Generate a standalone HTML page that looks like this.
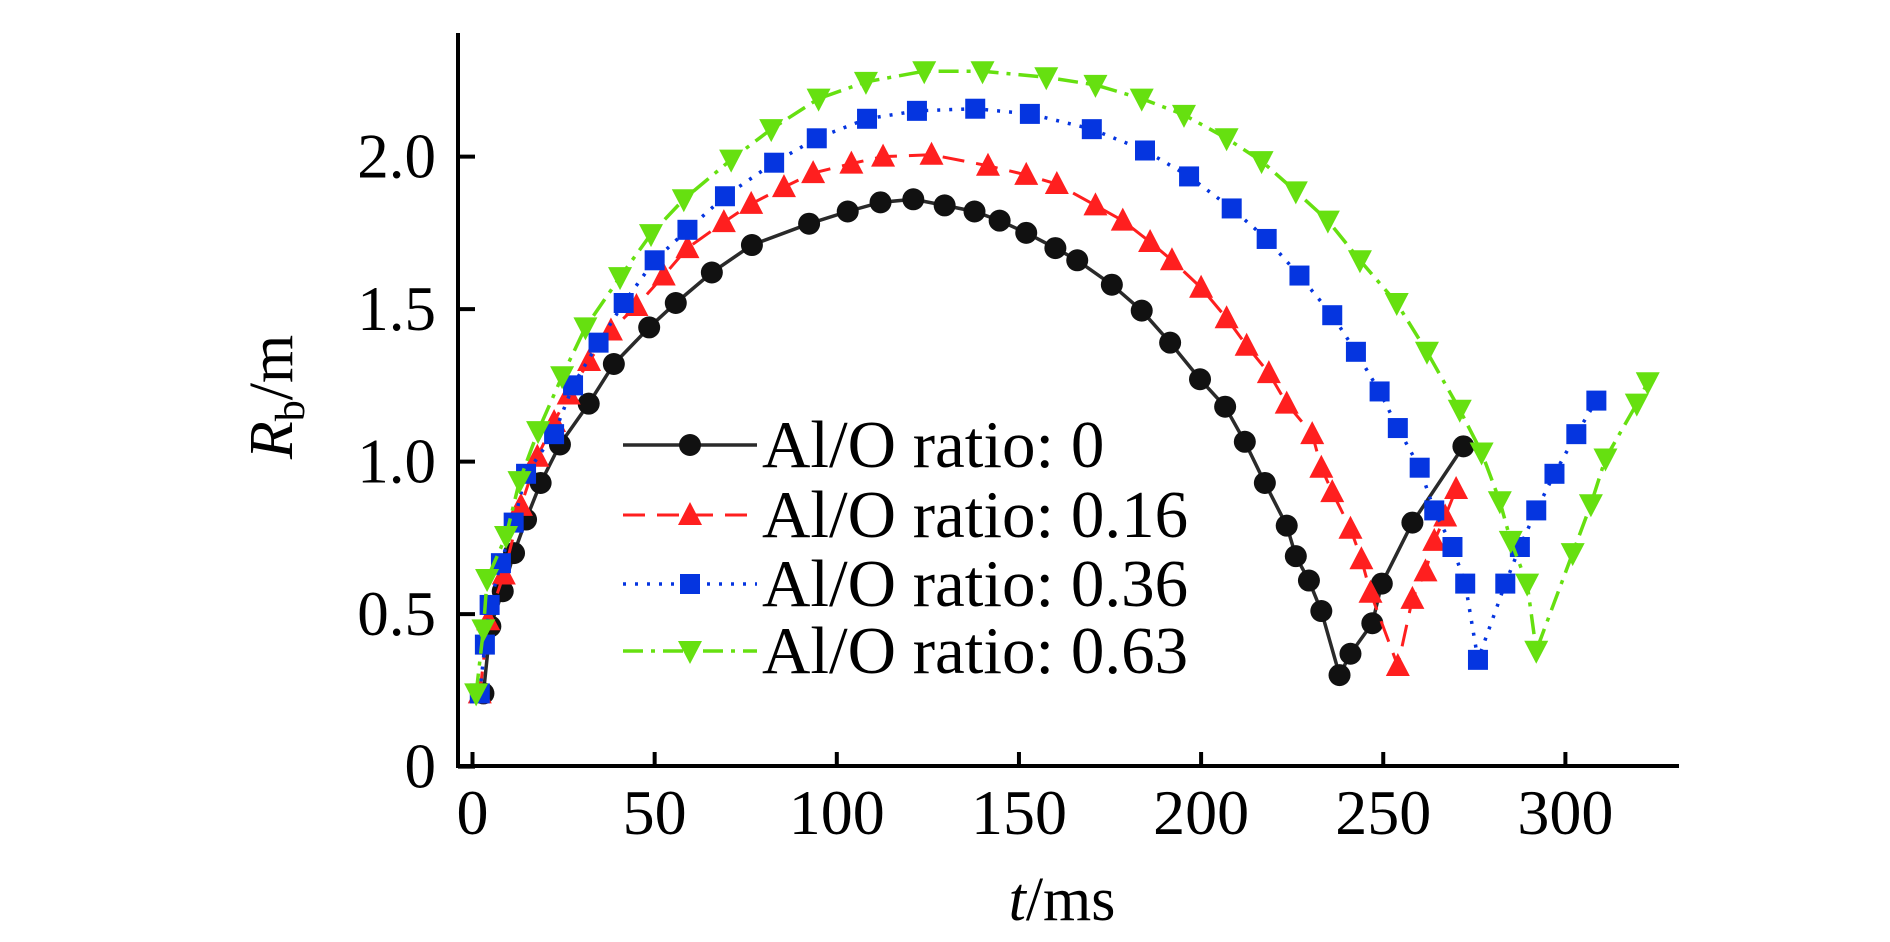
<!DOCTYPE html>
<html><head><meta charset="utf-8"><style>
html,body{margin:0;padding:0;background:#fff;}
svg{display:block;font-family:"Liberation Serif",serif;}
</style></head><body>
<svg id="chart" width="1890" height="942" viewBox="0 0 1890 942" xmlns="http://www.w3.org/2000/svg">
<g id="axes"></g>
<g id="series"></g>
<g id="legend"></g>
</svg>
<script>
const xTicks = [0, 50, 100, 150, 200, 250, 300];
const yTicks = [0, 0.5, 1.0, 1.5, 2.0];
const yTickLabels = ["0", "0.5", "1.0", "1.5", "2.0"];
const seriesNames = ["Al/O ratio: 0", "Al/O ratio: 0.16", "Al/O ratio: 0.36", "Al/O ratio: 0.63"];

const t0 = [3,4.9,8.3,11.4,14.7,18.7,24,31.9,38.8,48.5,55.8,65.7,76.7,92.4,103,112,121,129.6,137.8,144.7,152,160,166,175.5,183.7,191.5,199.7,206.6,212,217.5,223.5,226,229.6,233,238,241,247,249.6,258,272];
const r0 = [0.24,0.46,0.575,0.70,0.81,0.93,1.056,1.19,1.32,1.44,1.52,1.62,1.71,1.78,1.82,1.85,1.86,1.84,1.82,1.79,1.75,1.70,1.66,1.58,1.495,1.39,1.27,1.18,1.065,0.93,0.79,0.69,0.61,0.51,0.30,0.37,0.47,0.60,0.80,1.05];

const t1 = [2,4.3,8.6,13.3,17.8,22.4,26.4,32,38,45,52.5,59,69,76.5,85.5,93.5,104,112.7,126,141.5,152,160.4,171,178.5,186,192,200,207,212.5,218.6,223.5,230.5,233,236,241,244,246.5,254,258,261.6,264,267,270];
const r1 = [0.24,0.48,0.63,0.855,1.016,1.13,1.22,1.33,1.43,1.51,1.61,1.70,1.785,1.845,1.90,1.946,1.977,2.0,2.006,1.97,1.94,1.91,1.84,1.79,1.72,1.66,1.57,1.47,1.38,1.29,1.19,1.09,0.98,0.90,0.78,0.68,0.57,0.33,0.55,0.64,0.74,0.82,0.91];

const t2 = [2,3.4,4.7,7.8,11.3,14.7,22.4,27.6,34.6,41.5,50,59,69.3,82.8,94.5,108.3,122,138,153,170,184.6,196.7,208.4,218,227,236,242.5,249,254,260,264,269,272.5,276,283.5,287.5,292,297,303,308.5];
const r2 = [0.24,0.40,0.53,0.667,0.80,0.96,1.09,1.25,1.39,1.52,1.66,1.76,1.87,1.98,2.06,2.124,2.15,2.157,2.14,2.09,2.02,1.935,1.83,1.73,1.61,1.48,1.36,1.23,1.11,0.98,0.84,0.72,0.60,0.35,0.60,0.72,0.84,0.96,1.09,1.20];

const t3 = [1,3,4,9.2,12.9,18,24.6,31,40.5,49,58,71,82,95,108,124,140,157.5,171,183.7,195.3,207,216.6,226,234.8,243.6,253.7,262,271,277,282,285,289.5,292,302,307,311,319.6,322.6];
const r3 = [0.24,0.45,0.615,0.756,0.936,1.10,1.28,1.44,1.605,1.746,1.86,1.99,2.09,2.19,2.245,2.28,2.28,2.26,2.235,2.19,2.137,2.06,1.985,1.886,1.79,1.66,1.52,1.36,1.17,1.03,0.87,0.74,0.60,0.38,0.70,0.86,1.01,1.19,1.26];

const NS = "http://www.w3.org/2000/svg";
const X = t => 472.5 + t * 3.643;
const Y = r => 766.6 - r * 305;
function mk(tag, attrs, parent){ const e=document.createElementNS(NS,tag); for(const k in attrs) e.setAttribute(k,attrs[k]); parent.appendChild(e); return e; }

const axes = document.getElementById('axes');
let e;
e = mk('line',{x1:458,y1:33,x2:458,y2:768,stroke:'#000','stroke-width':4},axes);


e = mk('line',{x1:456,y1:766,x2:1679,y2:766,stroke:'#000','stroke-width':4},axes);


xTicks.forEach((v,i)=>{
  const tk = mk('line',{x1:X(v),y1:766,x2:X(v),y2:752,stroke:'#000','stroke-width':4},axes);
  
  
  const tx = mk('text',{x:X(v),y:834,'text-anchor':'middle','font-size':64,fill:'#000'},axes);
  tx.textContent = String(v);
  
  
});
yTicks.forEach((v,i)=>{
  const tk = mk('line',{x1:458,y1:Y(v),x2:475,y2:Y(v),stroke:'#000','stroke-width':4},axes);
  
  
  const tx = mk('text',{x:436,y:Y(v)+21,'text-anchor':'end','font-size':63,fill:'#000'},axes);
  tx.textContent = yTickLabels[i];
  
  
});
const xt = mk('text',{x:1062,y:920,'text-anchor':'middle','font-size':62,fill:'#000'},axes);
xt.innerHTML = '<tspan font-style="italic">t</tspan>/ms';


const yt = mk('text',{x:0,y:0,'text-anchor':'middle','font-size':62,fill:'#000',transform:'translate(292,397) rotate(-90)'},axes);
yt.innerHTML = '<tspan font-style="italic">R</tspan><tspan font-size="42" dy="12">b</tspan><tspan dy="-12">/m</tspan>';



const styles = [
  {c:'#111', lc:'#2a2a2a', dash:'', m:'circle', w:3.5},
  {c:'#ff1f1f', lc:'#ff1f1f', dash:'22 12', m:'up', w:3},
  {c:'#0535e0', lc:'#0535e0', dash:'3 9', m:'square', w:3.5},
  {c:'#66e010', lc:'#66e010', dash:'20 8 4 8', m:'down', w:3.5}
];
function marker(g, type, x, y, c){
  let m;
  if(type==='circle') m = mk('circle',{cx:x,cy:y,r:11,fill:c},g);
  else if(type==='square') m = mk('rect',{x:x-10,y:y-10,width:20,height:20,fill:c},g);
  else if(type==='up') m = mk('polygon',{points:`${x},${y-13} ${x-12},${y+10} ${x+12},${y+10}`,fill:c},g);
  else m = mk('polygon',{points:`${x},${y+13} ${x-12},${y-10} ${x+12},${y-10}`,fill:c},g);
  return m;
}
const seriesG = document.getElementById('series');
const allT=[t0,t1,t2,t3], allR=[r0,r1,r2,r3];
allT.forEach((ts,si)=>{
  const st = styles[si];
  const g = mk('g',{},seriesG);
  
  
  const pts = ts.map((t,i)=>X(t)+','+Y(allR[si][i])).join(' ');
  const pl = mk('polyline',{points:pts,fill:'none',stroke:st.lc,'stroke-width':st.w,'stroke-dasharray':st.dash},g);
  
  
  ts.forEach((t,i)=>{
    const m = marker(g, st.m, X(t), Y(allR[si][i]), st.c);
    
    
  });
});

const leg = document.getElementById('legend');
const rowsY = [445, 515, 584, 651];
seriesNames.forEach((n,i)=>{
  const st = styles[i];
  const g = mk('g',{},leg);
  
  
  mk('line',{x1:623,y1:rowsY[i],x2:757,y2:rowsY[i],stroke:st.lc,'stroke-width':st.w,'stroke-dasharray':st.dash},g);
  marker(g, st.m, 690, rowsY[i], st.c);
  const tx = mk('text',{x:762,y:rowsY[i]+22,'font-size':67,fill:'#000'},g);
  tx.textContent = n;
});
</script>
</body></html>
